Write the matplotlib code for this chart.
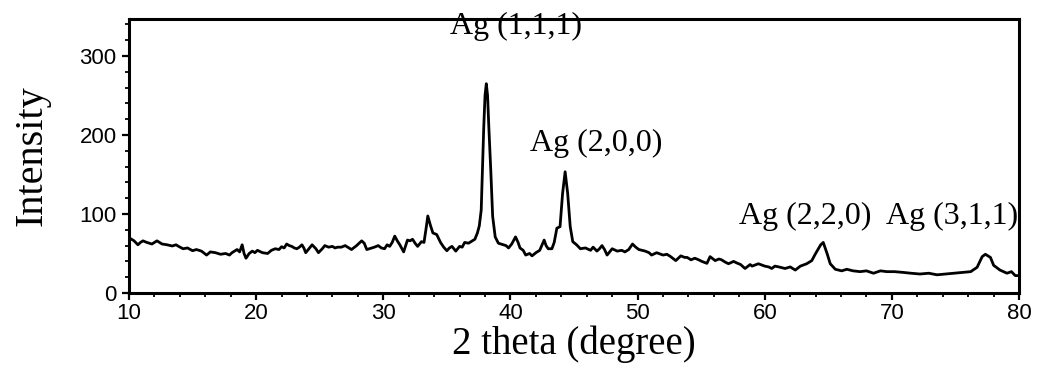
import numpy as np
import matplotlib.pyplot as plt
from matplotlib.ticker import MultipleLocator

# 2 theta (degree) and intensity
two_theta = [
    10.0, 10.2, 10.4, 10.7, 10.9, 11.1, 11.4, 11.8, 12.0, 12.2, 12.4, 12.6,
    13.0, 13.4, 13.7, 13.9, 14.25, 14.6, 15.0, 15.3, 15.7, 16.1, 16.4, 16.8,
    17.2, 17.6, 17.9, 18.1, 18.5, 18.7, 18.9, 19.05, 19.2, 19.45, 19.7, 19.9,
    20.1, 20.5, 20.9, 21.2, 21.5, 21.8, 22.0, 22.2, 22.4, 22.6, 22.8, 23.0,
    23.2, 23.4, 23.6, 23.75, 23.9, 24.2, 24.4, 24.7, 24.9, 25.2, 25.4, 25.7,
    26.0, 26.2, 26.4, 26.7, 27.0, 27.3, 27.5, 27.9, 28.3, 28.5, 28.7, 29.1,
    29.3, 29.6, 29.85, 30.1, 30.3, 30.5, 30.7, 30.9, 31.1, 31.3, 31.6, 31.9,
    32.1, 32.3, 32.5, 32.7, 33.0, 33.2, 33.35, 33.5, 33.7, 33.9, 34.2, 34.5,
    34.75, 35.0, 35.2, 35.4, 35.7, 36.0, 36.2, 36.4, 36.7, 37.0, 37.2, 37.4,
    37.55, 37.7, 37.8, 37.9, 38.0, 38.1, 38.2, 38.3, 38.45, 38.6, 38.8, 39.05,
    39.25, 39.45, 39.65, 39.85, 40.1, 40.4, 40.6, 40.75, 41.0, 41.2, 41.5, 41.7,
    42.0, 42.3, 42.65, 42.8, 42.97, 43.26, 43.44, 43.65, 43.9, 44.1, 44.3, 44.5,
    44.7, 44.9, 45.2, 45.5, 45.9, 46.3, 46.5, 46.8, 47.0, 47.2, 47.4, 47.6,
    48.0, 48.4, 48.75, 49.0, 49.3, 49.6, 49.85, 50.1, 50.6, 50.9, 51.1, 51.5,
    52.0, 52.3, 52.6, 53.0, 53.4, 53.7, 53.9, 54.2, 54.5, 54.8, 55.05, 55.45,
    55.7, 56.1, 56.4, 56.6, 56.9, 57.15, 57.55, 57.8, 58.1, 58.45, 58.85, 59.0,
    59.5, 60.0, 60.3, 60.55, 60.8, 61.1, 61.6, 62.0, 62.4, 62.8, 63.3, 63.7,
    64.0, 64.4, 64.6, 64.9, 65.15, 65.55, 66.05, 66.45, 66.95, 67.5, 68.0, 68.55,
    69.1, 69.6, 70.2, 70.9, 71.5, 72.2, 72.9, 73.55, 74.2, 74.85, 75.5, 76.2,
    76.7, 77.1, 77.35, 77.55, 77.75, 78.0, 78.5, 79.05, 79.4, 79.7, 80.0,
]
intensity = [
    70, 68, 66, 61, 64, 66, 64, 62, 64, 66, 64, 62,
    61, 59.5, 61, 59, 56, 57, 53.5, 55, 53, 48, 52, 51,
    49, 50, 48, 51, 55, 52, 61, 50, 44, 50, 53, 51,
    54, 51, 50, 54, 56, 55, 58.6, 57, 62, 60, 59, 57,
    56, 58, 61, 57, 51, 57, 61, 56, 51, 56, 60, 58,
    59, 57, 58, 58, 60, 57, 55, 60, 66, 63, 55, 57,
    58, 60, 57, 56, 61, 59, 64, 72, 66, 61, 52, 67,
    66, 68, 63, 59, 65, 64, 80, 97.5, 86, 76, 74, 64,
    58, 53.5, 57, 59, 53, 59, 58, 64, 63, 66, 68, 76,
    85, 105, 156, 210, 250, 265, 250, 210, 156, 97, 71, 63,
    62, 61, 60, 57, 62, 71, 64, 57, 54, 48, 50, 47,
    51, 54, 67, 60, 56, 56, 64, 82, 84, 126, 153.5, 126,
    84, 65, 61, 56, 57, 54, 58, 53, 56, 60, 55, 48,
    56, 53, 54, 52, 55, 62, 58, 55, 53, 51, 48, 51,
    48, 49, 46, 41, 47, 45, 45, 42, 44, 42, 40, 37.5,
    46, 41, 43, 42, 39, 37, 40, 38, 36, 31, 36, 34,
    37, 34, 33, 31, 34, 33, 31, 33, 29, 34, 37, 41,
    50, 61, 64, 50, 37, 30, 28, 30, 28, 27, 28, 25,
    28, 27, 27, 26, 25, 24, 25, 23, 24, 25, 26, 27,
    32.5, 46, 49, 47, 45, 35, 29, 25, 27, 22, 22,
]

peak_labels = ["Ag (1,1,1)", "Ag (2,0,0)", "Ag (2,2,0)", "Ag (3,1,1)"]
label_x = [40.45, 46.75, 63.2, 74.7]
label_y = [338, 189, 97, 97]

tick_font = ["Liberation Sans", "DejaVu Sans"]
serif_font = ["Liberation Serif", "DejaVu Serif"]

fig = plt.figure(figsize=(10.37, 3.79), dpi=100)
ax = fig.add_axes([0.1244, 0.227, 0.8583, 0.723])

ax.plot(two_theta, intensity, color="black", linewidth=2.0)

for txt, x, y in zip(peak_labels, label_x, label_y):
    ax.text(x, y, txt, ha="center", va="center",
            fontsize=23, family=serif_font)

ax.set_xlim(10, 80)
ax.set_ylim(0, 347)
ax.xaxis.set_major_locator(MultipleLocator(10))
ax.xaxis.set_minor_locator(MultipleLocator(2))
ax.yaxis.set_major_locator(MultipleLocator(100))
ax.yaxis.set_minor_locator(MultipleLocator(20))

for s in ax.spines.values():
    s.set_linewidth(2.2)
ax.tick_params(which="major", direction="out", length=5, width=1.6,
               labelsize=16, pad=4)
ax.tick_params(axis="x", which="major", pad=2)
ax.tick_params(which="minor", direction="out", length=3, width=1.3)
for lab in ax.get_xticklabels() + ax.get_yticklabels():
    lab.set_family(tick_font)

ax.set_xlabel("2 theta (degree)", fontsize=28, family=serif_font,
              labelpad=1)
ax.set_ylabel("Intensity", fontsize=29, family=serif_font,
              labelpad=21)

fig.savefig("out.png", dpi=100)
